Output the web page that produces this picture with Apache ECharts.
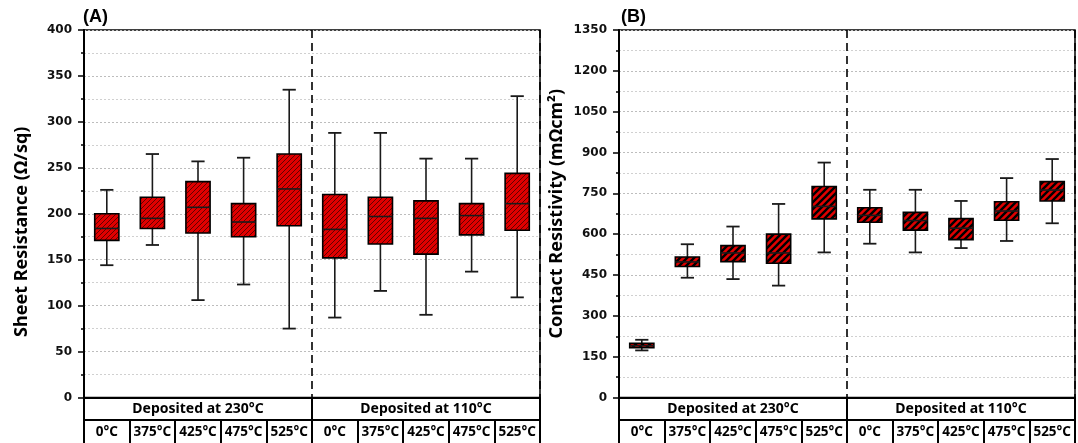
<!DOCTYPE html>
<html>
<head>
<meta charset="utf-8">
<script src="https://cdn.jsdelivr.net/npm/echarts@6/dist/echarts.min.js"></script>
<style>
  html, body { margin: 0; padding: 0; background: #fff; }
  #chart { width: 1078px; height: 443px; }
</style>
</head>
<body>
<div id="chart"></div>
<script>
// Annealing temperatures, five per deposition group
const annealTemps = ['0°C', '375°C', '425°C', '475°C', '525°C', '0°C', '375°C', '425°C', '475°C', '525°C'];
const depositionGroups = ['Deposited at 230°C', 'Deposited at 110°C'];

// Box statistics per sample: [lower whisker, Q1, median, Q3, upper whisker]
const sheetResistance = [
  [144, 171, 184, 200, 226],
  [166, 184, 195, 218, 265],
  [106, 179, 207, 235, 257],
  [123, 175, 191, 211, 261],
  [75, 187, 227, 265, 335],
  [87, 152, 183, 221, 288],
  [116, 167, 197, 218, 288],
  [90, 156, 195, 214, 260],
  [137, 177, 198, 211, 260],
  [109, 182, 211, 244, 328]
];
const contactResistivity = [
  [173, 183, 190, 199, 212],
  [440, 481, 498, 516, 563],
  [435, 499, 531, 558, 628],
  [411, 493, 531, 600, 711],
  [533, 656, 702, 775, 863],
  [565, 644, 669, 697, 763],
  [533, 615, 650, 680, 763],
  [549, 580, 622, 657, 722],
  [575, 651, 685, 719, 806],
  [640, 722, 762, 793, 876]
];

// Value axis ranges
const sheetAxis = { min: 0, max: 400, interval: 50 };
const contactAxis = { min: 0, max: 1350, interval: 150 };

const panelTitles = ['(A)', '(B)'];
const axisNames = ['Sheet Resistance (Ω/sq)', 'Contact Resistivity (mΩcm²)'];

// Diagonal hatch fill (red with "////" stripes)
function hatch(size, lineW, lineColor, bg) {
  const c = document.createElement('canvas');
  c.width = c.height = size;
  const g = c.getContext('2d');
  g.fillStyle = bg;
  g.fillRect(0, 0, size, size);
  g.strokeStyle = lineColor;
  g.lineWidth = lineW;
  g.beginPath();
  g.moveTo(-1, size + 1); g.lineTo(size + 1, -1);
  g.moveTo(-1, 1); g.lineTo(1, -1);
  g.moveTo(size - 1, size + 1); g.lineTo(size + 1, size - 1);
  g.stroke();
  return { image: c, repeat: 'repeat' };
}

const fillA = hatch(5, 0.9, 'rgba(60,0,0,0.85)', '#e00000');
const fillB = hatch(7, 2.4, '#000', '#e00000');

function boxRenderer(fill) {
  return function (params, api) {
    const x = api.value(0);
    const lo = api.coord([x, api.value(1)]);
    const q1 = api.coord([x, api.value(2)]);
    const md = api.coord([x, api.value(3)]);
    const q3 = api.coord([x, api.value(4)]);
    const hi = api.coord([x, api.value(5)]);
    const band = api.size([1, 0])[0];
    const bw = band * 0.53;
    const cw = band * 0.29;
    const cx = lo[0];
    const seg = (x1, y1, x2, y2, w) => ({
      type: 'line',
      shape: { x1, y1, x2, y2 },
      style: { stroke: '#1a1a1a', lineWidth: w }
    });
    return {
      type: 'group',
      children: [
        seg(cx, hi[1], cx, q3[1], 1.6),
        seg(cx, q1[1], cx, lo[1], 1.6),
        seg(cx - cw / 2, hi[1], cx + cw / 2, hi[1], 1.8),
        seg(cx - cw / 2, lo[1], cx + cw / 2, lo[1], 1.8),
        {
          type: 'rect',
          shape: { x: cx - bw / 2, y: q3[1], width: bw, height: q1[1] - q3[1] },
          style: { fill: fill, stroke: '#000', lineWidth: 1.6 }
        },
        seg(cx - bw / 2, md[1], cx + bw / 2, md[1], 1.6)
      ]
    };
  };
}

const tempFont = { fontFamily: 'Noto Sans', fontWeight: 'bold', fontSize: 13.5, color: '#000' };
const groupFont = { fontFamily: 'Noto Sans', fontWeight: 'bold', fontSize: 14, color: '#000' };

// Lower row of the category table: one cell per annealing temperature
function tempAxis(gridIndex) {
  return {
    type: 'category', gridIndex, data: annealTemps, position: 'bottom', offset: 22.5,
    axisLine: { show: true, onZero: false, lineStyle: { color: '#000', width: 2 } },
    axisTick: { show: true, interval: 0, length: 25, lineStyle: { color: '#000', width: 2 } },
    axisLabel: Object.assign({ interval: 0, margin: 5 }, tempFont),
    splitLine: { show: false }
  };
}

// Upper row: deposition groups, plus the dashed divider inside the plot
function groupAxis(gridIndex) {
  return {
    type: 'category', gridIndex, data: depositionGroups, position: 'bottom', offset: 0,
    axisLine: { show: true, onZero: false, lineStyle: { color: '#000', width: 2 } },
    axisTick: { show: true, interval: 0, length: 22.5, lineStyle: { color: '#000', width: 2 } },
    axisLabel: Object.assign({ interval: 0, margin: 5 }, groupFont),
    splitLine: { show: true, interval: 0, lineStyle: { color: '#000', type: [8, 5], width: 1.6 } }
  };
}

function valueAxis(gridIndex, range, name, shift) {
  return {
    type: 'value', gridIndex, min: range.min, max: range.max, interval: range.interval,
    name: name, nameLocation: 'middle', nameGap: 53,
    nameTextStyle: { fontFamily: 'Noto Sans', fontWeight: 'bold', fontSize: 18, color: '#000',
      padding: [0, shift, 0, 0] },
    axisLine: { show: true, lineStyle: { color: '#000', width: 2 } },
    axisTick: { show: true, length: 6, lineStyle: { color: '#000', width: 1.5 } },
    minorTick: { show: true, splitNumber: 2, length: 3, lineStyle: { color: '#000', width: 1.5 } },
    axisLabel: { fontFamily: 'DejaVu Sans', fontWeight: 'bold', fontSize: 12, color: '#111', margin: 12,
      formatter: v => String(v) },
    splitLine: { show: true, lineStyle: { color: '#bdbdbd', type: [2, 2], width: 1 } },
    minorSplitLine: { show: true, lineStyle: { color: '#d0d0d0', type: [2, 2], width: 1 } }
  };
}

const toRows = arr => arr.map((v, i) => [i].concat(v));

const chart = echarts.init(document.getElementById('chart'), null, { renderer: 'canvas' });
chart.setOption({
  animation: false,
  backgroundColor: '#fff',
  title: [
    { text: panelTitles[0], left: 83, top: 8, padding: 0,
      textStyle: { fontFamily: 'Liberation Sans', fontWeight: 'bold', fontSize: 18, color: '#000' } },
    { text: panelTitles[1], left: 621, top: 8, padding: 0,
      textStyle: { fontFamily: 'Liberation Sans', fontWeight: 'bold', fontSize: 18, color: '#000' } }
  ],
  grid: [
    { left: 84, top: 30, width: 456, height: 367.5, show: true, borderColor: '#000', borderWidth: 1.5, backgroundColor: 'transparent' },
    { left: 619, top: 30, width: 456, height: 367.5, show: true, borderColor: '#000', borderWidth: 1.5, backgroundColor: 'transparent' }
  ],
  xAxis: [tempAxis(0), groupAxis(0), tempAxis(1), groupAxis(1)],
  yAxis: [valueAxis(0, sheetAxis, axisNames[0], 36), valueAxis(1, contactAxis, axisNames[1], 0)],
  series: [
    {
      type: 'custom', xAxisIndex: 0, yAxisIndex: 0,
      renderItem: boxRenderer(fillA),
      encode: { x: 0, y: [1, 2, 3, 4, 5] },
      data: toRows(sheetResistance)
    },
    {
      type: 'custom', xAxisIndex: 2, yAxisIndex: 1,
      renderItem: boxRenderer(fillB),
      encode: { x: 0, y: [1, 2, 3, 4, 5] },
      data: toRows(contactResistivity)
    }
  ]
});
</script>
</body>
</html>
